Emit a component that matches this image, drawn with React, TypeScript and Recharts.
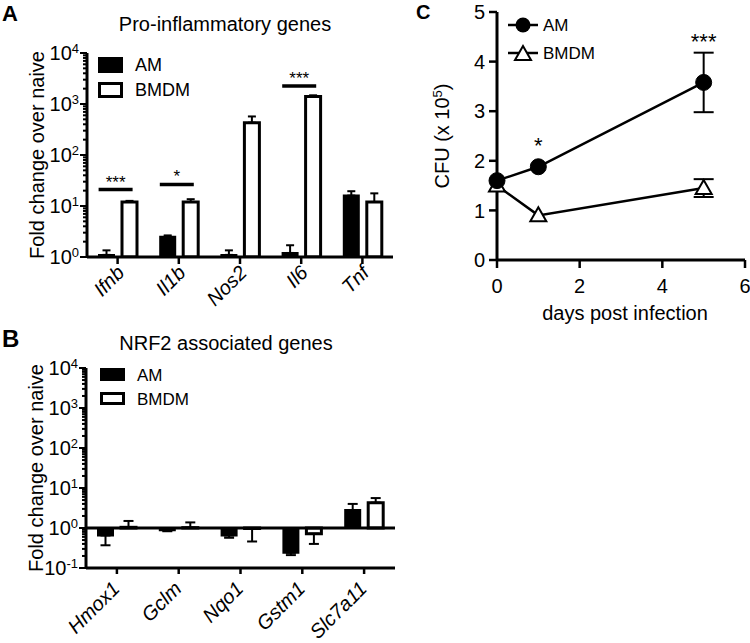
import React from 'react'
import {
  BarChart, Bar, XAxis, YAxis, ErrorBar, ReferenceLine, ReferenceDot, Legend,
  LineChart, Line,
} from 'recharts'

const FONT = '"Liberation Sans", Arial, Helvetica, sans-serif'

// A: pro-inflammatory genes (fold change over naive, log scale)
const genesA = ['Ifnb', 'Il1b', 'Nos2', 'Il6', 'Tnf']
const amA = [1.1, 2.5, 1.1, 1.2, 16]
const amErrA = [0.25, 0.15, 0.25, 0.5, 3.5]
const bmdmA = [12, 12, 430, 1400, 12]
const bmdmErrA = [0.6, 1.6, 140, 80, 5.7]
const sigGenesA = ['Ifnb', 'Il1b', 'Il6']
const sigLevelA = [21, 26.5, 2250]
const sigTextA = ['***', '*', '***']
const decadesA = [1, 10, 100, 1000, 10000]

// B: NRF2 associated genes
const genesB = ['Hmox1', 'Gclm', 'Nqo1', 'Gstm1', 'Slc7a11']
const amB = [0.65, 0.88, 0.65, 0.24, 2.8]
const amErrB = [0.28, 0.05, 0.08, 0.03, 1.2]
const bmdmB = [1.04, 1.02, 0.97, 0.72, 4.3]
const bmdmErrB = [0.46, 0.36, 0.51, 0.32, 1.3]
const decadesB = [0.1, 1, 10, 100, 1000, 10000]

// C: CFU over time
const days = [0, 1, 5]
const amCfu = [1.6, 1.88, 3.58]
const amCfuErr = [null, null, 0.6]
const bmdmCfu = [1.5, 0.9, 1.45]
const bmdmCfuErr = [null, null, 0.18]
const sigDaysC = [1, 5]
const sigLevelC = [2.16, 4.25]
const sigTextC = ['*', '***']
const dayTicks = [0, 2, 4, 6]
const cfuTicks = [0, 1, 2, 3, 4, 5]

// minor log ticks 2..9 inside each decade
const withMinor = (dec: number[]) =>
  dec.flatMap((d, i) => (i === dec.length - 1 ? [d] : [1, 2, 3, 4, 5, 6, 7, 8, 9].map((k) => d * k)))

// GraphPad style: error only drawn away from the baseline of 1
const dirErr = (v: number, e: number) => (v >= 1 ? [0, e] : [e, 0])

const rowsA = genesA.map((g, i) => ({
  gene: g, am: amA[i], bmdm: bmdmA[i],
  amErr: dirErr(amA[i], amErrA[i]), bmdmErr: dirErr(bmdmA[i], bmdmErrA[i]),
}))
const rowsB = genesB.map((g, i) => ({
  gene: g, am: amB[i], bmdm: bmdmB[i],
  amErr: dirErr(amB[i], amErrB[i]), bmdmErr: dirErr(bmdmB[i], bmdmErrB[i]),
}))
const rowsC = days.map((d, i) => ({
  day: d, am: amCfu[i], bmdm: bmdmCfu[i], amErr: amCfuErr[i], bmdmErr: bmdmCfuErr[i],
}))

const axisStyle = { stroke: '#000', strokeWidth: 3 }
const tickStyle = { stroke: '#000', strokeWidth: 2.5 }

function LogTick(props: any) {
  const { x, y, payload } = props
  const lg = Math.log10(payload.value)
  const exp = Math.round(lg)
  const major = Math.abs(lg - exp) < 1e-6
  return (
    <g>
      <line x1={x - (major ? 7 : 4)} x2={x} y1={y} y2={y} stroke="#000" strokeWidth={2} />
      {major && (
        <text x={x - 8} y={y + 7} textAnchor="end" fontSize={20} fill="#000">
          10<tspan dy={-7} fontSize={13}>{exp}</tspan>
        </text>
      )}
    </g>
  )
}

function GeneTick(props: any) {
  const { x, y, payload, ox, oy } = props
  return (
    <text transform={`translate(${x + ox},${y + oy}) rotate(-45)`} textAnchor="end"
      fontStyle="italic" fontSize={20} fill="#000">
      {payload.value}
    </text>
  )
}

function AxisText(props: any) {
  const { x, y, rotate, children } = props
  return (
    <text x={x} y={y} textAnchor="middle" fontSize={20} fill="#000"
      transform={rotate ? `rotate(-90, ${x}, ${y})` : undefined}>
      {children}
    </text>
  )
}

const sigShapeA = (txt: string) => (p: any) => (
  <g>
    <line x1={p.cx - 19} x2={p.cx + 15} y1={p.cy} y2={p.cy} stroke="#000" strokeWidth={3.5} />
    <text x={p.cx - 2} y={p.cy - 2} textAnchor="middle" fontSize={17} fill="#000">{txt}</text>
  </g>
)

const sigShapeC = (txt: string) => (p: any) => (
  <text x={p.cx} y={p.cy} textAnchor="middle" fontSize={22} fill="#000">{txt}</text>
)

const boxLegend = (boxH: number, font: number, rowGap: number) => () => (
  <svg width={120} height={rowGap + boxH + 6} style={{ display: 'block', fontFamily: FONT }}>
    <rect x={1} y={1} width={25} height={boxH} fill="#000" />
    <text x={38} y={1 + boxH / 2 + font * 0.36} fontSize={font} fill="#000">AM</text>
    <rect x={2.5} y={rowGap + 2.5} width={22} height={boxH - 3} fill="#fff" stroke="#000" strokeWidth={3} />
    <text x={38} y={rowGap + 1 + boxH / 2 + font * 0.36} fontSize={font} fill="#000">BMDM</text>
  </svg>
)

function Triangle(props: any) {
  const { cx, cy } = props
  if (cx == null || cy == null) return null
  return (
    <polygon points={`${cx},${cy - 8} ${cx - 8},${cy + 6} ${cx + 8},${cy + 6}`}
      fill="#fff" stroke="#000" strokeWidth={2} />
  )
}

const lineLegend = () => (
  <svg width={110} height={56} style={{ display: 'block', fontFamily: FONT }}>
    <line x1={3} x2={33} y1={11} y2={11} stroke="#000" strokeWidth={2.5} />
    <circle cx={18} cy={11} r={7.5} fill="#000" />
    <text x={38} y={17} fontSize={17} fill="#000">AM</text>
    <line x1={3} x2={33} y1={39} y2={39} stroke="#000" strokeWidth={2.5} />
    <Triangle cx={18} cy={40} />
    <text x={38} y={45} fontSize={17} fill="#000">BMDM</text>
  </svg>
)

export default function App() {
  return (
    <div style={{ position: 'absolute', left: 0, top: 0, width: 750, height: 643, background: '#fff', fontFamily: FONT }}>
      <svg width={750} height={643} style={{ position: 'absolute', left: 0, top: 0 }}>
        <text x={2} y={21} fontSize={22} fontWeight="bold" fill="#000">A</text>
        <text x={225} y={31} fontSize={20} textAnchor="middle" fill="#000">Pro-inflammatory genes</text>
        <text x={2} y={347} fontSize={24} fontWeight="bold" fill="#000">B</text>
        <text x={226} y={350} fontSize={20} textAnchor="middle" fill="#000">NRF2 associated genes</text>
        <text x={416} y={19} fontSize={20} fontWeight="bold" fill="#000">C</text>
        <text x={625} y={320} fontSize={20} textAnchor="middle" fill="#000">days post infection</text>
      </svg>

      <div style={{ position: 'absolute', left: 0, top: 0 }}>
        <BarChart width={400} height={330} data={rowsA} margin={{ top: 53, right: 7, bottom: 13, left: 0 }}
          barSize={15} barGap={8}>
          <XAxis dataKey="gene" height={60} interval={0} tickSize={7} tickMargin={0}
            axisLine={axisStyle} tickLine={tickStyle}
            tick={(p: any) => <GeneTick {...p} ox={8} oy={10} />} />
          <YAxis scale="log" domain={[1, 10000]} allowDataOverflow ticks={withMinor(decadesA)} interval={0}
            width={87} tickSize={0} tickMargin={0} tickLine={false} axisLine={axisStyle} tick={LogTick}
            label={<AxisText x={39.5} y={152.5} rotate>Fold change over naive</AxisText>} />
          <Legend layout="vertical" align="center" verticalAlign="middle"
            wrapperStyle={{ left: 97, top: 56, width: 120 }} content={boxLegend(16, 18, 25)} />
          <Bar name="AM" dataKey={(d: any) => [1, d.am]} fill="#000" stroke="#000" strokeWidth={2}
            isAnimationActive={false}>
            <ErrorBar dataKey="amErr" width={4} strokeWidth={2} stroke="#000" />
          </Bar>
          <Bar name="BMDM" dataKey={(d: any) => [1, d.bmdm]} fill="#fff" stroke="#000" strokeWidth={3}
            isAnimationActive={false}>
            <ErrorBar dataKey="bmdmErr" width={4} strokeWidth={2} stroke="#000" />
          </Bar>
          {sigGenesA.map((g, i) => (
            <ReferenceDot key={g} x={g} y={sigLevelA[i]} shape={sigShapeA(sigTextA[i])} />
          ))}
        </BarChart>
      </div>

      <div style={{ position: 'absolute', left: 0, top: 320 }}>
        <BarChart width={400} height={323} data={rowsB} margin={{ top: 48, right: 5, bottom: 15, left: 0 }}
          barSize={15} barGap={8}>
          <XAxis dataKey="gene" height={60} interval={0} tickSize={6} tickMargin={0}
            axisLine={axisStyle} tickLine={tickStyle}
            tick={(p: any) => <GeneTick {...p} ox={4} oy={16} />} />
          <YAxis scale="log" domain={[0.1, 10000]} allowDataOverflow ticks={withMinor(decadesB)} interval={0}
            width={86} tickSize={0} tickMargin={0} tickLine={false} axisLine={axisStyle} tick={LogTick}
            label={<AxisText x={38} y={137.5} rotate>Fold change over naive</AxisText>} />
          <Legend layout="vertical" align="center" verticalAlign="middle"
            wrapperStyle={{ left: 99, top: 47, width: 120 }} content={boxLegend(13, 17, 24)} />
          <ReferenceLine y={1} stroke="#000" strokeWidth={3} />
          <Bar name="AM" dataKey={(d: any) => [1, d.am]} fill="#000" stroke="#000" strokeWidth={2}
            isAnimationActive={false}>
            <ErrorBar dataKey="amErr" width={5} strokeWidth={2} stroke="#000" />
          </Bar>
          <Bar name="BMDM" dataKey={(d: any) => [1, d.bmdm]} fill="#fff" stroke="#000" strokeWidth={3}
            isAnimationActive={false}>
            <ErrorBar dataKey="bmdmErr" width={5} strokeWidth={2} stroke="#000" />
          </Bar>
        </BarChart>
      </div>

      <div style={{ position: 'absolute', left: 400, top: 0 }}>
        <LineChart width={350} height={330} data={rowsC} margin={{ top: 12, right: 5, bottom: 10, left: 0 }}>
          <XAxis dataKey="day" type="number" domain={[0, 6]} ticks={dayTicks} interval={0} height={60}
            tickSize={8} tickMargin={11} axisLine={axisStyle} tickLine={tickStyle}
            tick={{ fill: '#000', fontSize: 20 }} />
          <YAxis type="number" domain={[0, 5]} ticks={cfuTicks} interval={0} width={97}
            tickSize={8} tickMargin={4} axisLine={axisStyle} tickLine={tickStyle}
            tick={{ fill: '#000', fontSize: 20 }}
            label={
              <AxisText x={57} y={128.5} rotate>
                CFU (x 10<tspan dy={-7} fontSize={13}>5</tspan><tspan dy={7}>)</tspan>
              </AxisText>
            } />
          <Legend layout="vertical" align="center" verticalAlign="middle"
            wrapperStyle={{ left: 105, top: 14, width: 110 }} content={lineLegend} />
          <Line dataKey="bmdm" name="BMDM" stroke="#000" strokeWidth={2.5} isAnimationActive={false}
            dot={(p: any) => <Triangle key={`t${p.index}`} {...p} />} activeDot={false}>
            <ErrorBar dataKey="bmdmErr" width={10} strokeWidth={2} stroke="#000" direction="y" />
          </Line>
          <Line dataKey="am" name="AM" stroke="#000" strokeWidth={2.5} isAnimationActive={false}
            dot={{ r: 8, fill: '#000', stroke: '#000', strokeWidth: 1 }} activeDot={false}>
            <ErrorBar dataKey="amErr" width={10} strokeWidth={2} stroke="#000" direction="y" />
          </Line>
          {sigDaysC.map((d, i) => (
            <ReferenceDot key={d} x={d} y={sigLevelC[i]} shape={sigShapeC(sigTextC[i])} />
          ))}
        </LineChart>
      </div>
    </div>
  )
}
